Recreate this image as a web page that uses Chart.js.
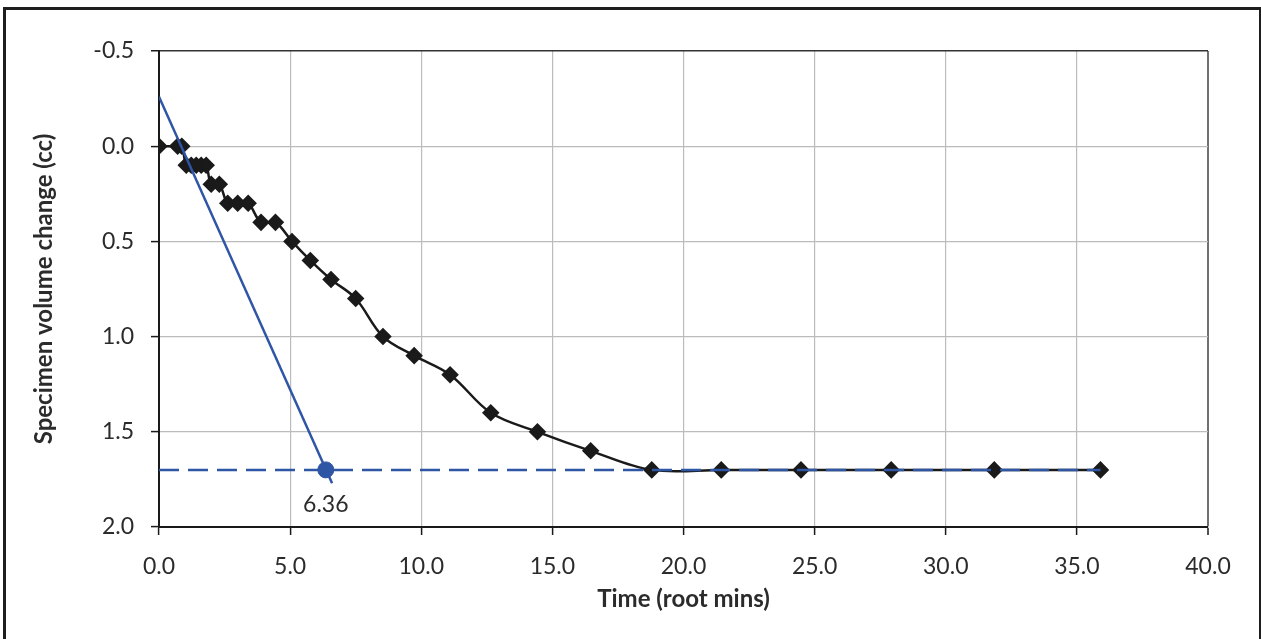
<!DOCTYPE html>
<html>
<head>
<meta charset="utf-8">
<title>Specimen volume change vs root time</title>
<script src="https://cdn.jsdelivr.net/npm/chart.js@4"></script>
<style>
    html, body { margin: 0; padding: 0; background: #fff; overflow: hidden; }
    #frame {
        position: absolute; left: 3px; top: 7px;
        width: 1253px; height: 700px;
        border: 3px solid #1e1e1e;
    }
    #wrap { position: absolute; left: 0; top: 0; width: 1261px; height: 639px; }
</style>
</head>
<body>
<div id="frame"></div>
<div id="wrap"><canvas id="volumeChart"></canvas></div>
<script>
// Readings: root time (mins) against specimen volume change (cc)
const timeRoot = [0, 0.71, 0.87, 1.04, 1.23, 1.42, 1.61, 1.80, 1.99, 2.30, 2.62, 3.00, 3.40,
    3.89, 4.44, 5.07, 5.77, 6.56, 7.50, 8.54, 9.73, 11.10, 12.65, 14.43, 16.46,
    18.79, 21.44, 24.48, 27.92, 31.85, 35.9];
const volumeChange = [0, 0, 0, 0.1, 0.1, 0.1, 0.1, 0.1, 0.2, 0.2, 0.3, 0.3, 0.3,
    0.4, 0.4, 0.5, 0.6, 0.7, 0.8, 1.0, 1.1, 1.2, 1.4, 1.5, 1.6,
    1.7, 1.7, 1.7, 1.7, 1.7, 1.7];

// Initial slope line and final volume line
const slopeX = [0, 6.6];
const slopeY = [-0.26, 1.77];
const finalX = [0, 35.9];
const finalY = [1.7, 1.7];

// Intersection marker
const markerX = [6.36];
const markerY = [1.7];

const xTicks = [0, 5, 10, 15, 20, 25, 30, 35, 40];
const yTicks = [-0.5, 0, 0.5, 1.0, 1.5, 2.0];

const blue = '#2f55a5';
const toPoints = (xs, ys) => xs.map((x, i) => ({ x: x, y: ys[i] }));

Chart.defaults.font.family = 'Lato';
Chart.defaults.color = '#2b2b2b';

// Writes the intersection value under the marker
const markerLabel = {
    id: 'markerLabel',
    afterDatasetsDraw(chart) {
        const ctx = chart.ctx;
        const xs = chart.scales.x, ys = chart.scales.y;
        ctx.save();
        ctx.font = '23px Lato';
        ctx.fillStyle = '#2b2b2b';
        ctx.textAlign = 'center';
        ctx.textBaseline = 'middle';
        markerX.forEach((mx, i) => {
            ctx.fillText(mx.toFixed(2), xs.getPixelForValue(mx), ys.getPixelForValue(markerY[i]) + 35);
        });
        ctx.restore();
    }
};

const ctx = document.getElementById('volumeChart').getContext('2d');
const volumeChart = new Chart(ctx, {
    type: 'scatter',
    data: {
        datasets: [{
            label: 'Intersection',
            data: toPoints(markerX, markerY),
            pointStyle: 'circle',
            pointRadius: 8,
            backgroundColor: blue,
            borderColor: blue
        },
        {
            label: 'Initial slope',
            data: toPoints(slopeX, slopeY),
            showLine: true,
            borderColor: blue,
            borderWidth: 2.5,
            pointRadius: 0
        },
        {
            label: 'Final volume',
            data: toPoints(finalX, finalY),
            showLine: true,
            borderColor: blue,
            borderWidth: 2.5,
            borderDash: [20, 9],
            pointRadius: 0
        },
        {
            label: 'Volume change',
            data: toPoints(timeRoot, volumeChange),
            showLine: true,
            tension: 0.35,
            borderWidth: 2.5,
            pointStyle: 'rectRot',
            pointRadius: 7,
            backgroundColor: '#1a1a1a',
            borderColor: '#1a1a1a'
        }]
    },
    options: {
        responsive: true,
        maintainAspectRatio: false,
        animation: false,
        layout: { padding: { left: 30, top: 51, right: 53, bottom: 25 } },
        plugins: {
            legend: { display: false },
            tooltip: { enabled: false }
        },
        scales: {
            x: {
                type: 'linear',
                min: 0,
                max: 40,
                afterBuildTicks: scale => { scale.ticks = xTicks.map(v => ({ value: v })); },
                afterFit: scale => { scale.height = 87; },
                ticks: {
                    padding: 18,
                    font: { size: 23 },
                    callback: v => v.toFixed(1)
                },
                grid: {
                    color: c => c.tick && c.tick.value === 40 ? '#707070' : '#bcbcbc',
                    lineWidth: c => c.tick && c.tick.value === 40 ? 2 : 1.2,
                    tickColor: '#1a1a1a',
                    tickLength: 8,
                    tickWidth: 1.5
                },
                border: { color: '#1a1a1a', width: 2 },
                title: {
                    display: true,
                    text: 'Time (root mins)',
                    font: { size: 24, weight: 'bold' },
                    padding: 0
                }
            },
            y: {
                type: 'linear',
                reverse: true,
                min: -0.5,
                max: 2.0,
                afterBuildTicks: scale => { scale.ticks = yTicks.map(v => ({ value: v })); },
                afterFit: scale => { scale.width = 129; },
                ticks: {
                    padding: 17,
                    font: { size: 23 },
                    callback: v => v.toFixed(1)
                },
                grid: {
                    color: c => c.tick && c.tick.value === -0.5 ? '#333' : '#bcbcbc',
                    lineWidth: c => c.tick && c.tick.value === -0.5 ? 1.5 : 1.2,
                    tickColor: '#1a1a1a',
                    tickLength: 8,
                    tickWidth: 1.5
                },
                border: { color: '#1a1a1a', width: 2 },
                title: {
                    display: true,
                    text: 'Specimen volume change (cc)',
                    font: { size: 24, weight: 'bold' },
                    padding: 0
                }
            }
        }
    },
    plugins: [markerLabel]
});
</script>
</body>
</html>
